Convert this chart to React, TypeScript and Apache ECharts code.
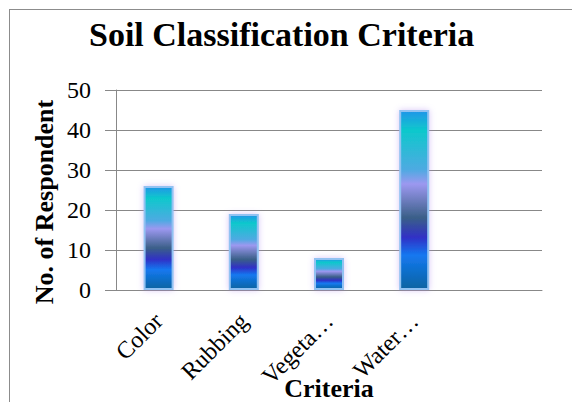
import React, { useEffect, useRef } from "react";
import * as echarts from "echarts";

const categories = ["Color", "Rubbing", "Vegeta…", "Water…", ""];
const respondents = [26, 19, 8, 45, null];
const yTicks = { min: 0, max: 50, interval: 10 };
const titleText = "Soil Classification Criteria";
const xAxisName = "Criteria";
const yAxisName = "No. of Respondent";

const FONT = '"Liberation Serif", "Times New Roman", serif';

export default function App() {
  const ref = useRef<HTMLDivElement>(null);
  useEffect(() => {
    if (!ref.current) return;
    const chart = echarts.init(ref.current, null, { renderer: "svg" });
    const barColor = new echarts.graphic.LinearGradient(0, 0, 0, 1, [
      { offset: 0, color: "#2196e8" },
      { offset: 0.11, color: "#0ec8cc" },
      { offset: 0.33, color: "#4eaae2" },
      { offset: 0.41, color: "#9c98f0" },
      { offset: 0.6, color: "#3a5f88" },
      { offset: 0.71, color: "#3030c6" },
      { offset: 0.81, color: "#1478f0" },
      { offset: 1, color: "#0a64a2" },
    ]);
    chart.setOption({
      animation: false,
      backgroundColor: "#ffffff",
      title: {
        text: titleText,
        left: 84,
        top: 12,
        textStyle: { fontFamily: FONT, fontWeight: "bold", fontSize: 34, color: "#000" },
      },
      graphic: [
        { type: "line", shape: { x1: 9, y1: 9.5, x2: 572, y2: 9.5 }, style: { stroke: "#8c8c8c", lineWidth: 1 } },
        { type: "line", shape: { x1: 9.5, y1: 9, x2: 9.5, y2: 402 }, style: { stroke: "#8c8c8c", lineWidth: 1 } },
        {
          type: "text",
          x: 44,
          y: 202,
          rotation: Math.PI / 2,
          style: {
            text: yAxisName,
            fontFamily: FONT,
            fontWeight: "bold",
            fontSize: 26,
            fill: "#000",
            align: "center",
            verticalAlign: "middle",
          },
        },
        {
          type: "text",
          x: 329,
          y: 388,
          style: {
            text: xAxisName,
            fontFamily: FONT,
            fontWeight: "bold",
            fontSize: 26,
            fill: "#000",
            align: "center",
            verticalAlign: "middle",
          },
        },
      ],
      grid: { left: 116, right: 30, top: 90, bottom: 112, outerBoundsMode: "none" },
      xAxis: {
        type: "category",
        data: categories,
        axisLine: { lineStyle: { color: "#888", width: 1 } },
        axisTick: { show: false },
        axisLabel: {
          rotate: 45,
          interval: 0,
          margin: 27,
          fontFamily: FONT,
          fontSize: 24,
          color: "#000",
        },
      },
      yAxis: {
        type: "value",
        min: yTicks.min,
        max: yTicks.max,
        interval: yTicks.interval,
        axisLine: { show: true, lineStyle: { color: "#888", width: 1 } },
        axisTick: { show: true, length: 11, lineStyle: { color: "#888" } },
        splitLine: { lineStyle: { color: "#888", width: 1 } },
        axisLabel: { margin: 25, fontFamily: FONT, fontSize: 24, color: "#000" },
      },
      series: [
        {
          type: "bar",
          data: respondents,
          barWidth: 30,
          itemStyle: {
            color: barColor,
            borderColor: "#92c2f2",
            borderWidth: 2,
            shadowColor: "rgba(170,130,240,0.45)",
            shadowBlur: 6,
          },
        },
      ],
    });
    return () => chart.dispose();
  }, []);
  return <div ref={ref} style={{ width: 572, height: 402, position: "absolute", left: 0, top: 0 }} />;
}
